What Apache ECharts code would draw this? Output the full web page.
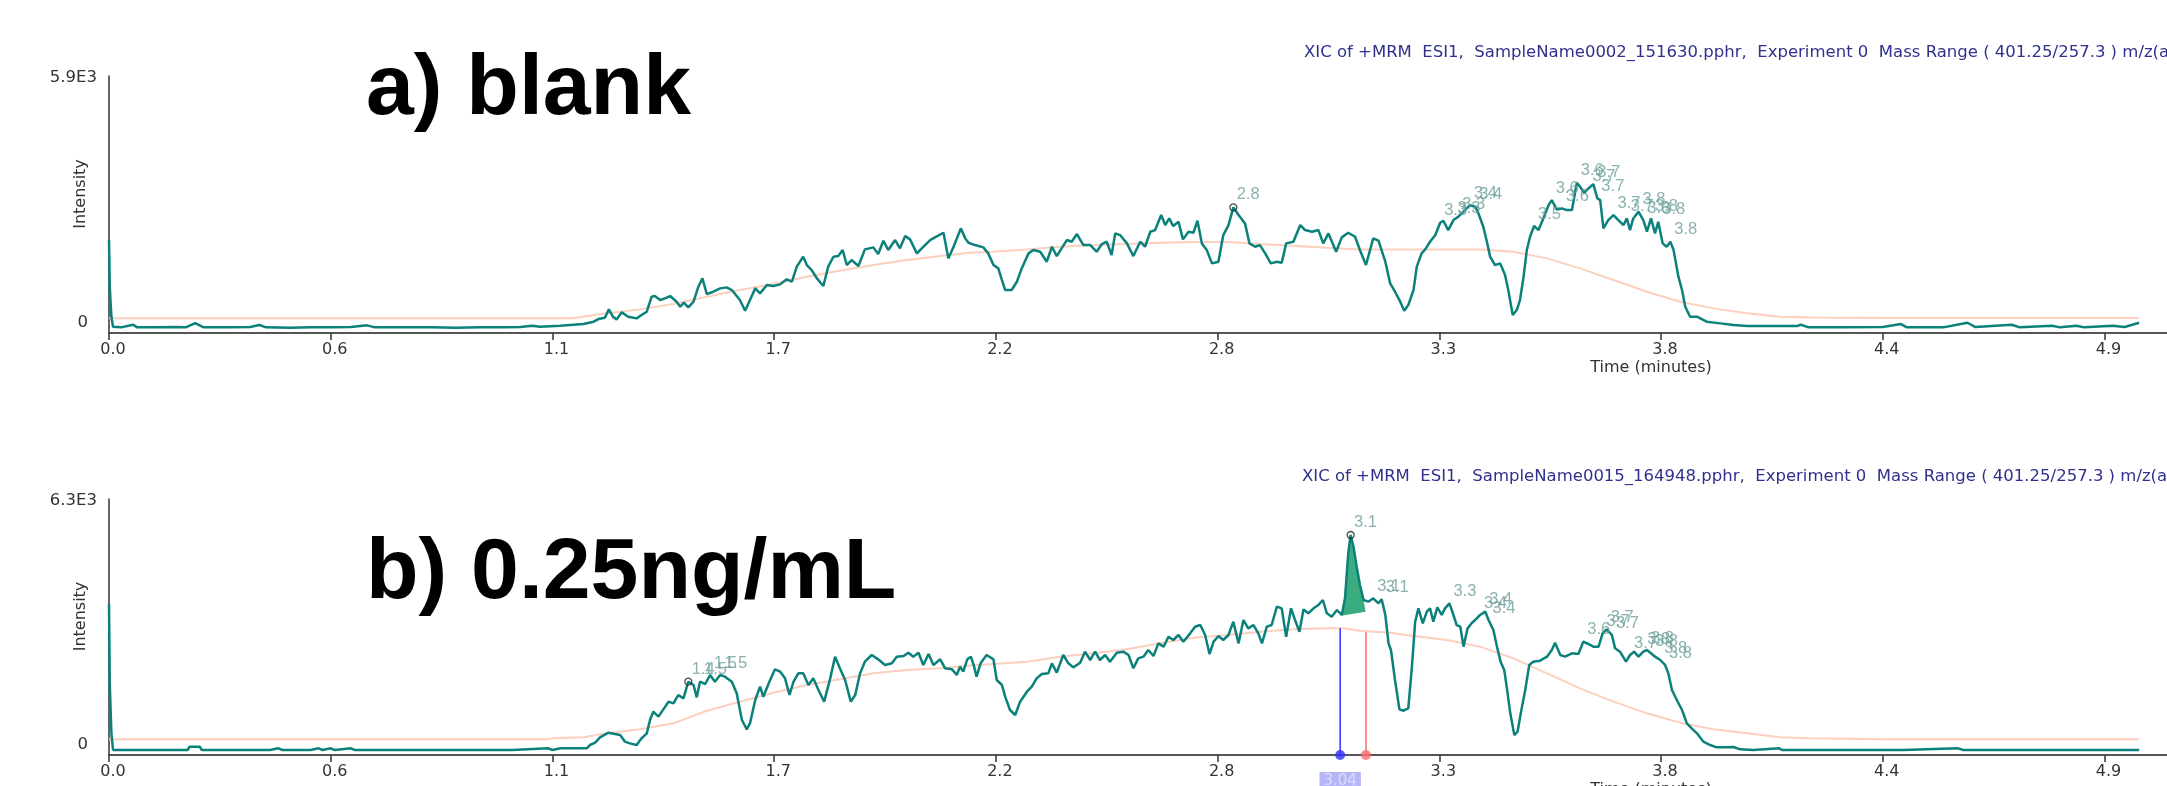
<!DOCTYPE html>
<html><head><meta charset="utf-8">
<script src="https://cdn.jsdelivr.net/npm/echarts@6/dist/echarts.min.js"></script>
<style>html,body{margin:0;padding:0;background:#fff;}#c{width:2167px;height:786px;}</style>
</head><body><div id="c"></div>
<script>
// ---------- axis ticks / labels ----------
const xTicks = [0, 0.55, 1.1, 1.65, 2.2, 2.75, 3.3, 3.85, 4.4, 4.95];
const xTickLabels = ['0.0','0.6','1.1','1.7','2.2','2.8','3.3','3.8','4.4','4.9'];
const topYTicks = [0, 5900];
const topYLabels = ['0', '5.9E3'];
const botYTicks = [0, 6300];
const botYLabels = ['0', '6.3E3'];
const topRange = [-240, 5950];
const botRange = [-258, 6352];

// ---------- texts ----------
const panelTitles = ['a) blank', 'b) 0.25ng/mL'];
const headers = [
  'XIC of +MRM  ESI1,  SampleName0002_151630.pphr,  Experiment 0  Mass Range ( 401.25/257.3 ) m/z(amu)',
  'XIC of +MRM  ESI1,  SampleName0015_164948.pphr,  Experiment 0  Mass Range ( 401.25/257.3 ) m/z(amu)'
];
const xName = 'Time (minutes)';
const yName = 'Intensity';

// ---------- a) blank : XIC trace [time, intensity] ----------
const topTrace = [
[0,1999],[0.002,867],[0.004,482],[0.006,144],[0.01,-88],[0.03,-104],[0.06,-40],[0.07,-104],[0.12,-104],[0.16,-96],[0.19,-104],[0.214,0],[0.235,-104],[0.30,-104],[0.35,-96],[0.373,-48],[0.39,-104],[0.45,-112],[0.50,-104],[0.55,-104],[0.60,-96],[0.64,-56],[0.66,-104],[0.72,-104],[0.80,-104],[0.86,-112],[0.92,-104],[0.98,-104],[1.02,-96],[1.05,-64],[1.069,-88],
[1.119,-64],[1.177,-24],[1.202,32],[1.214,96],[1.230,128],[1.240,329],[1.250,152],[1.259,88],[1.272,257],[1.288,152],[1.309,112],[1.321,193],[1.334,273],[1.346,634],[1.354,650],[1.367,554],[1.379,594],[1.392,650],[1.408,514],[1.417,393],[1.426,490],[1.437,377],[1.450,514],[1.462,875],[1.472,1076],[1.483,698],[1.499,754],[1.516,835],[1.532,859],[1.545,795],[1.565,554],[1.578,297],[1.590,554],[1.603,835],[1.615,714],[1.632,915],[1.648,891],[1.665,931],[1.681,1052],[1.694,995],[1.706,1357],[1.722,1597],[1.731,1397],[1.743,1276],[1.756,1076],[1.772,891],[1.784,1357],[1.797,1597],[1.809,1613],[1.820,1758],[1.830,1397],[1.842,1517],[1.859,1373],[1.875,1774],[1.896,1822],[1.908,1662],[1.921,1983],[1.933,1758],[1.950,1999],[1.962,1798],[1.975,2095],[1.987,2015],[2.004,1678],[2.016,1798],[2.037,1999],[2.049,2063],[2.070,2175],[2.082,1557],[2.095,1838],[2.113,2280],[2.124,2039],
[2.132,1934],[2.148,1878],[2.169,1822],[2.181,1678],[2.194,1397],[2.206,1316],[2.215,1035],[2.223,795],[2.239,795],[2.252,995],[2.264,1316],[2.281,1678],[2.293,1758],[2.310,1718],[2.326,1477],[2.339,1838],[2.351,1613],[2.363,1798],[2.376,1999],[2.388,1959],[2.401,2143],[2.417,1878],[2.434,1878],[2.450,1718],[2.463,1902],[2.475,1959],[2.487,1637],[2.496,2159],[2.508,2119],[2.525,1918],[2.541,1613],[2.558,1959],[2.570,1838],[2.583,2199],[2.595,2239],[2.610,2601],[2.620,2360],[2.630,2520],[2.640,2336],[2.653,2440],[2.664,2015],[2.678,2199],[2.690,2175],[2.700,2464],[2.711,1918],[2.723,1758],[2.736,1437],[2.752,1477],[2.764,2119],[2.777,2360],[2.789,2785],[2.802,2601],[2.818,2400],[2.829,1918],[2.843,1838],[2.855,1878],[2.868,1678],[2.882,1437],[2.897,1477],[2.909,1453],[2.920,1918],[2.938,1959],[2.955,2360],[2.967,2239],[2.984,2199],[3.000,2239],[3.012,1918],[3.025,2159],[3.044,1718],[3.058,2063],[3.074,2175],[3.091,2079],[3.103,1758],[3.118,1397],[3.136,2039],[3.149,1983],
[3.166,1477],[3.178,955],[3.190,754],[3.203,514],[3.213,297],[3.223,433],[3.236,795],[3.244,1357],[3.256,1678],[3.265,1774],[3.277,1959],[3.290,2119],[3.302,2416],[3.310,2464],[3.322,2239],[3.335,2480],[3.347,2561],[3.360,2681],[3.376,2841],[3.389,2801],[3.397,2641],[3.409,2320],[3.418,1959],[3.426,1597],[3.438,1397],[3.451,1437],[3.463,1156],[3.471,795],[3.482,193],[3.492,313],[3.500,554],[3.509,1116],[3.517,1758],[3.525,2079],[3.535,2336],[3.546,2239],[3.558,2520],[3.571,2841],[3.579,2962],[3.591,2737],[3.604,2761],[3.616,2721],[3.629,2721],[3.641,3379],[3.649,3283],[3.659,3138],[3.670,3243],[3.682,3347],[3.692,3002],[3.699,2962],[3.707,2280],[3.719,2480],[3.732,2601],[3.744,2480],[3.757,2360],[3.765,2520],[3.773,2239],[3.781,2520],[3.794,2681],[3.806,2480],[3.815,2199],[3.825,2520],[3.835,2159],[3.843,2440],[3.854,1918],[3.864,1838],[3.873,1959],[3.881,1758],[3.893,1116],[3.902,795],[3.910,393],[3.922,152],[3.939,152],[3.963,32],[3.997,-8],[4.030,-48],[4.063,-72],[4.104,-72],[4.145,-72],[4.187,-72],
[4.197,-40],[4.216,-104],[4.30,-104],[4.40,-96],[4.445,-24],[4.46,-104],[4.55,-104],[4.61,7],[4.63,-96],[4.72,-40],[4.74,-104],[4.82,-64],[4.84,-104],[4.88,-64],[4.90,-104],[4.97,-64],[5.00,-96],[5.036,7]
];
const topSmooth = [
[0,113],[1.15,113],[1.152,128],[1.234,233],[1.317,329],[1.400,458],[1.483,634],[1.565,795],[1.648,939],[1.731,1116],[1.813,1260],[1.896,1397],[1.979,1517],[2.062,1613],[2.136,1694],[2.194,1718],[2.277,1774],[2.359,1838],[2.442,1878],[2.525,1902],[2.607,1934],[2.690,1950],[2.773,1950],[2.855,1902],[2.938,1862],[3.021,1814],[3.103,1774],[3.178,1770],[3.236,1770],[3.319,1770],[3.401,1770],[3.484,1718],[3.567,1557],[3.649,1316],[3.732,1035],[3.815,754],[3.897,514],[3.980,353],[4.063,233],[4.145,152],[4.220,136],[4.4,120],[5.036,120]
];
// apex annotations [time, intensity, text, circled]
const topApex = [
[2.789,2785,'2.8',1],[3.302,2416,'3.3',0],[3.335,2480,'3.3',0],[3.347,2561,'3.3',0],[3.376,2841,'3.4',0],[3.389,2801,'3.4',0],
[3.535,2336,'3.5',0],[3.579,2962,'3.6',0],[3.604,2761,'3.6',0],[3.641,3379,'3.6',0],[3.670,3243,'3.7',0],[3.682,3347,'3.7',0],[3.692,3002,'3.7',0],
[3.732,2601,'3.7',0],[3.765,2520,'3.7',0],[3.794,2681,'3.8',0],[3.806,2480,'3.8',0],[3.825,2520,'3.8',0],[3.843,2440,'3.8',0],[3.873,1959,'3.8',0]
];

// ---------- b) 0.25 ng/mL ----------
const botTrace = [
[0,3641],[0.002,1549],[0.004,904],[0.006,301],[0.01,-129],[0.05,-129],[0.10,-129],[0.15,-129],[0.195,-129],[0.20,-43],[0.225,-43],[0.23,-129],[0.30,-129],[0.40,-129],[0.42,-86],[0.43,-129],[0.50,-129],[0.52,-86],[0.53,-129],[0.55,-86],[0.56,-129],[0.60,-86],[0.61,-129],[0.70,-129],[0.80,-129],[0.90,-129],[1.00,-129],[1.09,-86],[1.10,-129],[1.12,-86],[1.185,-86],
[1.193,0],[1.206,60],[1.218,198],[1.239,318],[1.255,284],[1.268,258],[1.280,86],[1.292,43],[1.309,0],[1.321,172],[1.334,301],[1.342,646],[1.350,861],[1.363,732],[1.375,921],[1.388,1119],[1.400,1076],[1.412,1291],[1.425,1205],[1.437,1635],[1.450,1549],[1.458,1231],[1.466,1635],[1.479,1575],[1.491,1807],[1.503,1635],[1.516,1807],[1.528,1764],[1.545,1635],[1.557,1334],[1.570,646],[1.582,405],[1.590,559],[1.603,1162],[1.615,1506],[1.623,1248],[1.640,1678],[1.652,1954],[1.665,1893],[1.677,1721],[1.688,1291],[1.698,1635],[1.710,1850],[1.722,1850],[1.735,1549],[1.747,1721],[1.760,1420],[1.774,1119],[1.789,1721],[1.801,2281],[1.813,1980],[1.826,1678],[1.840,1119],[1.851,1291],[1.863,1850],[1.875,2152],[1.892,2324],[1.908,2212],[1.925,2066],[1.942,2109],[1.954,2281],[1.971,2298],[1.983,2384],[1.995,2281],[2.008,2384],[2.020,2066],[2.033,2350],[2.045,2066],[2.062,2212],[2.074,1980],[2.091,1954],[2.103,1807],
[2.111,2023],[2.119,1893],[2.129,2212],[2.138,2281],[2.146,2023],[2.152,1764],[2.162,2109],[2.177,2324],[2.194,2212],[2.202,1678],[2.215,1549],[2.223,1248],[2.235,904],[2.248,775],[2.260,1119],[2.277,1377],[2.289,1506],[2.301,1721],[2.314,1833],[2.330,1850],[2.339,2109],[2.351,1868],[2.367,2324],[2.380,2109],[2.392,2005],[2.409,2126],[2.421,2410],[2.434,2195],[2.446,2410],[2.458,2195],[2.471,2324],[2.483,2152],[2.500,2384],[2.516,2410],[2.529,2324],[2.541,1980],[2.553,2238],[2.566,2281],[2.578,2453],[2.591,2298],[2.603,2625],[2.616,2539],[2.628,2797],[2.640,2711],[2.653,2840],[2.665,2668],[2.682,2883],[2.694,3055],[2.707,3098],[2.719,2840],[2.730,2350],[2.740,2668],[2.752,2814],[2.764,2711],[2.777,2840],[2.789,3184],[2.802,2625],[2.814,3227],[2.826,3012],[2.839,3098],[2.851,2883],[2.860,2625],[2.872,3055],[2.884,3098],[2.897,3572],[2.909,3529],[2.920,2797],[2.932,3529],[2.942,3227],[2.953,2926],[2.963,3503],[2.975,3400],[2.988,3529],[3.000,3615],[3.011,3744],[3.021,3400],[3.033,3313],[3.046,3486],[3.058,3357],[3.066,3787],[3.074,4949],[3.080,5422],[3.087,5121],[3.095,4605],[3.103,4131],[3.112,3744],[3.124,3701],[3.136,3787],[3.149,3658],[3.157,3761],[3.166,3357],[3.174,2625],
[3.180,2453],[3.190,1678],[3.201,921],[3.211,886],[3.223,947],[3.232,2023],[3.240,3184],[3.248,3529],[3.259,3141],[3.269,3443],[3.277,3529],[3.285,3184],[3.295,3555],[3.306,3357],[3.314,3529],[3.325,3658],[3.335,3357],[3.343,3098],[3.352,3055],[3.360,2539],[3.370,3012],[3.381,3158],[3.393,3271],[3.401,3357],[3.414,3443],[3.422,3227],[3.434,2969],[3.443,2539],[3.452,2152],[3.461,1937],[3.467,1506],[3.476,818],[3.486,258],[3.494,344],[3.502,818],[3.513,1420],[3.523,2066],[3.533,2152],[3.550,2177],[3.567,2281],[3.579,2453],[3.587,2642],[3.600,2324],[3.612,2281],[3.629,2367],[3.645,2350],[3.657,2668],[3.670,2608],[3.682,2539],[3.695,2539],[3.705,2883],[3.715,2987],[3.728,2840],[3.736,2496],[3.748,2410],[3.763,2152],[3.773,2324],[3.783,2410],[3.794,2281],[3.806,2410],[3.815,2453],[3.825,2367],[3.835,2281],[3.848,2195],[3.860,2066],[3.868,1850],[3.877,1420],[3.889,1162],[3.902,904],[3.914,559],[3.926,430],[3.939,301],[3.955,86],[3.972,0],[3.988,-60],[4.013,-60],[4.030,-52],[4.046,-112],[4.079,-129],[4.143,-86],[4.15,-129],[4.30,-129],[4.45,-129],[4.587,-86],[4.60,-129],[4.80,-129],[5.036,-129]
];
const botSmooth = [
[0,146],[1.09,146],[1.10,172],[1.177,198],[1.234,301],[1.317,405],[1.400,559],[1.483,886],[1.565,1119],[1.648,1351],[1.731,1549],[1.813,1696],[1.896,1850],[1.979,1937],[2.062,1980],[2.136,2050],[2.194,2092],[2.277,2152],[2.359,2281],[2.442,2367],[2.525,2470],[2.607,2625],[2.690,2771],[2.773,2840],[2.855,2926],[2.938,2987],[3.021,3012],[3.062,3012],[3.103,2952],[3.178,2900],[3.236,2814],[3.319,2711],[3.401,2539],[3.484,2238],[3.567,1850],[3.649,1463],[3.732,1119],[3.815,818],[3.897,577],[3.980,405],[4.063,301],[4.145,198],[4.220,172],[4.40,146],[5.036,146]
];
const botApex = [
[1.437,1635,'1.4',1],[1.466,1635,'1.5',0],[1.491,1807,'1.5',0],[1.516,1807,'1.5',0],
[3.080,5422,'3.1',1],[3.136,3787,'3.1',0],[3.157,3761,'3.1',0],[3.325,3658,'3.3',0],
[3.401,3357,'3.4',0],[3.414,3443,'3.4',0],[3.422,3227,'3.4',0],
[3.657,2668,'3.6',0],[3.705,2883,'3.7',0],[3.715,2987,'3.7',0],[3.728,2840,'3.7',0],[3.773,2324,'3.7',0],
[3.806,2410,'3.8',0],[3.815,2453,'3.8',0],[3.825,2367,'3.8',0],[3.848,2195,'3.8',0],[3.860,2066,'3.8',0]
];
// integrated peak: start/end times, top of the drop lines, straight baseline under the peak
const boundTimes = [3.054, 3.118];
const boundTops = [3012, 2926];
const boundLabels = ['3.04', ''];
const peakBase = [[3.057, 3339], [3.117, 3443]];

// ---------- build ----------
const FONT = 'DejaVu Sans';
const TRACE = '#0a817a';
const SMOOTH = '#fccfbe';
const APEX = '#6b9d9b';
const fillPoly = [peakBase[0]].concat(
  botTrace.filter(p => p[0] > peakBase[0][0] && p[0] < peakBase[1][0]), [peakBase[1]]);

function xAxisCfg(gi) {
  return {
    type: 'value', gridIndex: gi, min: 0, max: 5.105,
    name: xName, nameLocation: 'middle', nameGap: 27, nameMoveOverlap: false,
    nameTextStyle: {fontFamily: FONT, fontSize: 16, color: '#333', padding: [0,0,0,1026]},
    axisLine: {show: true, onZero: false, lineStyle: {color: '#555', width: 2}},
    axisTick: {show: true, length: 7, lineStyle: {color: '#333', width: 1.5}, customValues: xTicks},
    axisLabel: {customValues: xTicks, margin: 9, color: '#333', fontFamily: FONT, fontSize: 16,
      padding: [0,0,0,8],
      formatter: v => { const i = xTicks.findIndex(t => Math.abs(t - v) < 1e-9); return i < 0 ? '' : xTickLabels[i]; }},
    splitLine: {show: false}
  };
}
function yAxisCfg(gi, range, ticks, labels) {
  return {
    type: 'value', gridIndex: gi, min: range[0], max: range[1],
    name: yName, nameLocation: 'middle', nameGap: 20, nameMoveOverlap: false,
    nameTextStyle: {fontFamily: FONT, fontSize: 16, color: '#333', padding: [0,0,0,21]},
    axisLine: {show: true, lineStyle: {color: '#333', width: 1.5}},
    axisTick: {show: false},
    axisLabel: {customValues: ticks, margin: 12, color: '#333', fontFamily: FONT, fontSize: 16.5,
      formatter: v => { const i = ticks.findIndex(t => Math.abs(t - v) < 1e-6); if (i < 0) return ''; return v === 0 ? '{z|' + labels[i] + '}' : labels[i]; },
      rich: {z: {fontFamily: FONT, fontSize: 16.5, color: '#333', padding: [0,9,0,0]}}},
    splitLine: {show: false}
  };
}
function apexSeries(gi, apex) {
  return {
    type: 'scatter', xAxisIndex: gi, yAxisIndex: gi, silent: true, z: 6, symbolSize: 7,
    data: apex.map(a => ({value: [a[0], a[1]], txt: a[2],
      itemStyle: a[3] ? {color: 'rgba(255,255,255,0)', borderColor: '#222', borderWidth: 1.3}
                      : {color: 'rgba(0,0,0,0)', borderWidth: 0}})),
    label: {show: true, position: [7.5, -8.5], align: 'left', verticalAlign: 'middle',
      color: APEX, fontFamily: 'Liberation Sans', fontSize: 16.5, formatter: p => p.data.txt}
  };
}
const boundColors = ['#2f2fff', '#ff6a6a'];
const boundSeries = [];
boundTimes.forEach((t, i) => {
  boundSeries.push({type: 'line', xAxisIndex: 1, yAxisIndex: 1, silent: true, z: 4, showSymbol: false,
    data: [[t, botRange[0]], [t, boundTops[i]]], lineStyle: {color: boundColors[i], width: 1.5}});
  boundSeries.push({type: 'scatter', xAxisIndex: 1, yAxisIndex: 1, silent: true, z: 7, clip: false, symbolSize: 10,
    data: [[t, botRange[0]]], itemStyle: {color: boundColors[i]},
    label: {show: !!boundLabels[i], position: 'bottom', distance: 12, formatter: boundLabels[i],
      backgroundColor: '#a3a3f6', color: '#e4e4ff', fontFamily: FONT, fontSize: 15, padding: [2, 4, 2, 4]}});
});

const option = {
  animation: false,
  backgroundColor: '#fff',
  title: [
    {text: panelTitles[0], left: 361, top: 42, textStyle: {fontFamily: 'Liberation Sans', fontWeight: 'bold', fontSize: 86, color: '#000'}},
    {text: panelTitles[1], left: 361, top: 526, textStyle: {fontFamily: 'Liberation Sans', fontWeight: 'bold', fontSize: 86, color: '#000'}},
    {text: headers[0], left: 1299, top: 39, textStyle: {fontFamily: FONT, fontWeight: 'normal', fontSize: 16.5, color: '#30318c'}},
    {text: headers[1], left: 1297, top: 463, textStyle: {fontFamily: FONT, fontWeight: 'normal', fontSize: 16.5, color: '#30318c'}}
  ],
  grid: [
    {left: 109, top: 76, right: 0, height: 257, containLabel: false, outerBoundsMode: 'none'},
    {left: 109, top: 499, right: 0, height: 256, containLabel: false, outerBoundsMode: 'none'}
  ],
  xAxis: [xAxisCfg(0), xAxisCfg(1)],
  yAxis: [yAxisCfg(0, topRange, topYTicks, topYLabels), yAxisCfg(1, botRange, botYTicks, botYLabels)],
  series: [
    {type: 'line', xAxisIndex: 0, yAxisIndex: 0, data: topSmooth, showSymbol: false, silent: true, z: 2, lineStyle: {color: SMOOTH, width: 2}},
    {type: 'line', xAxisIndex: 0, yAxisIndex: 0, data: topTrace, showSymbol: false, silent: true, z: 3, lineStyle: {color: TRACE, width: 2.5}},
    apexSeries(0, topApex),
    {type: 'line', xAxisIndex: 1, yAxisIndex: 1, data: botSmooth, showSymbol: false, silent: true, z: 2, lineStyle: {color: SMOOTH, width: 2}},
    {type: 'custom', xAxisIndex: 1, yAxisIndex: 1, silent: true, z: 2.5, data: [peakBase[0]],
      renderItem: (params, api) => ({type: 'polygon', shape: {points: fillPoly.map(p => api.coord(p))}, style: {fill: '#3bab80'}})},
    {type: 'line', xAxisIndex: 1, yAxisIndex: 1, data: botTrace, showSymbol: false, silent: true, z: 3, lineStyle: {color: TRACE, width: 2.5}},
    apexSeries(1, botApex)
  ].concat(boundSeries)
};
const chart = echarts.init(document.getElementById('c'), null, {renderer: 'canvas'});
chart.setOption(option);
</script></body></html>
